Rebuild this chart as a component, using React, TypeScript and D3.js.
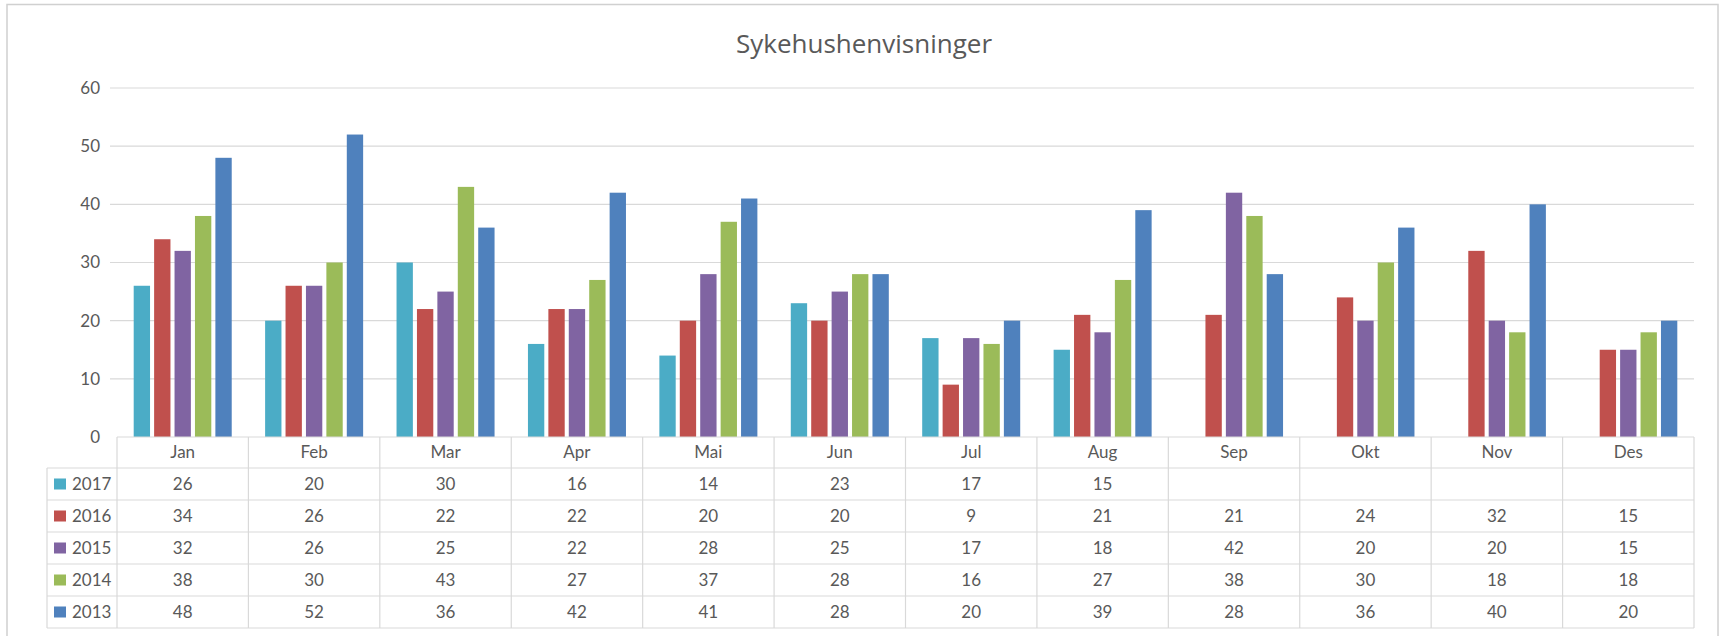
import * as d3 from 'd3';

const months = ['Jan', 'Feb', 'Mar', 'Apr', 'Mai', 'Jun', 'Jul', 'Aug', 'Sep', 'Okt', 'Nov', 'Des'];
const years = ['2017', '2016', '2015', '2014', '2013'];
const v2017: (number | null)[] = [26, 20, 30, 16, 14, 23, 17, 15, null, null, null, null];
const v2016: (number | null)[] = [34, 26, 22, 22, 20, 20, 9, 21, 21, 24, 32, 15];
const v2015: (number | null)[] = [32, 26, 25, 22, 28, 25, 17, 18, 42, 20, 20, 15];
const v2014: (number | null)[] = [38, 30, 43, 27, 37, 28, 16, 27, 38, 30, 18, 18];
const v2013: (number | null)[] = [48, 52, 36, 42, 41, 28, 20, 39, 28, 36, 40, 20];
const yTicks = [0, 10, 20, 30, 40, 50, 60];

const seriesValues = [v2017, v2016, v2015, v2014, v2013];
const colors = ['#4BACC6', '#C0504D', '#8064A2', '#9BBB59', '#4F81BD'];

const W = 1723;
const H = 636;
const plot = { left: 117, right: 1694, top: 88, bottom: 437 };
const table = { left: 47, headerH: 31, rowH: 32 };
const textColor = '#595959';
const lineColor = '#D9D9D9';
const font = 'Lato, "Open Sans", sans-serif';

export default function App() {
  const x0 = d3.scaleBand<string>().domain(months).range([plot.left, plot.right]);
  const inner = 16.7;
  const x1 = d3
    .scaleBand<string>()
    .domain(years)
    .range([inner, x0.bandwidth() - inner])
    .paddingInner(0.2);
  const y = d3.scaleLinear().domain([0, 60]).range([plot.bottom, plot.top]);

  const headerBottom = plot.bottom + table.headerH;
  const tableBottom = headerBottom + table.rowH * years.length;

  return (
    <svg width={W} height={H} style={{ position: 'absolute', left: 0, top: 0, background: '#fff' }}>
      <rect x={7} y={4.5} width={1711} height={H} fill="#fff" stroke="#D0D0D0" strokeWidth={1.5} />

      <text x={864} y={53} textAnchor="middle" fill={textColor} fontFamily='"Open Sans", sans-serif' fontSize={26}>
        Sykehushenvisninger
      </text>

      {yTicks.map((t) => (
        <g key={t}>
          {t > 0 && <line x1={110} x2={plot.right} y1={y(t)} y2={y(t)} stroke={lineColor} strokeWidth={1.2} />}
          <text x={100} y={y(t)} dy="0.35em" textAnchor="end" fill={textColor} fontFamily={font} fontSize={17}>
            {t}
          </text>
        </g>
      ))}

      {months.map((m, i) => (
        <g key={m} transform={`translate(${x0(m)},0)`}>
          {years.map((yr, s) => {
            const v = seriesValues[s][i];
            if (v == null) return null;
            return (
              <rect
                key={yr}
                x={x1(yr)}
                y={y(v)}
                width={x1.bandwidth()}
                height={y(0) - y(v)}
                fill={colors[s]}
              />
            );
          })}
        </g>
      ))}

      {/* data table */}
      <line x1={plot.left} x2={plot.right} y1={plot.bottom} y2={plot.bottom} stroke={lineColor} strokeWidth={1.2} />
      {years.map((yr, s) => (
        <line
          key={yr}
          x1={table.left}
          x2={plot.right}
          y1={headerBottom + table.rowH * s}
          y2={headerBottom + table.rowH * s}
          stroke={lineColor}
          strokeWidth={1.2}
        />
      ))}
      <line x1={table.left} x2={plot.right} y1={tableBottom} y2={tableBottom} stroke={lineColor} strokeWidth={1.2} />
      <line x1={table.left} x2={table.left} y1={headerBottom} y2={tableBottom} stroke={lineColor} strokeWidth={1.2} />
      {months.map((m) => (
        <line
          key={m}
          x1={x0(m)}
          x2={x0(m)}
          y1={plot.bottom}
          y2={tableBottom}
          stroke={lineColor}
          strokeWidth={1.2}
        />
      ))}
      <line x1={plot.right} x2={plot.right} y1={plot.bottom} y2={tableBottom} stroke={lineColor} strokeWidth={1.2} />

      {months.map((m) => (
        <text
          key={m}
          x={(x0(m) ?? 0) + x0.bandwidth() / 2}
          y={plot.bottom + table.headerH / 2}
          dy="0.35em"
          textAnchor="middle"
          fill={textColor}
          fontFamily={font}
          fontSize={17}
        >
          {m}
        </text>
      ))}

      {years.map((yr, s) => {
        const cy = headerBottom + table.rowH * s + table.rowH / 2;
        return (
          <g key={yr}>
            <rect x={54} y={cy - 5.5} width={12} height={11} fill={colors[s]} />
            <text x={72} y={cy} dy="0.35em" fill={textColor} fontFamily={font} fontSize={17}>
              {yr}
            </text>
            {months.map((m, i) => {
              const v = seriesValues[s][i];
              if (v == null) return null;
              return (
                <text
                  key={m}
                  x={(x0(m) ?? 0) + x0.bandwidth() / 2}
                  y={cy}
                  dy="0.35em"
                  textAnchor="middle"
                  fill={textColor}
                  fontFamily={font}
                  fontSize={17}
                >
                  {v}
                </text>
              );
            })}
          </g>
        );
      })}
    </svg>
  );
}
